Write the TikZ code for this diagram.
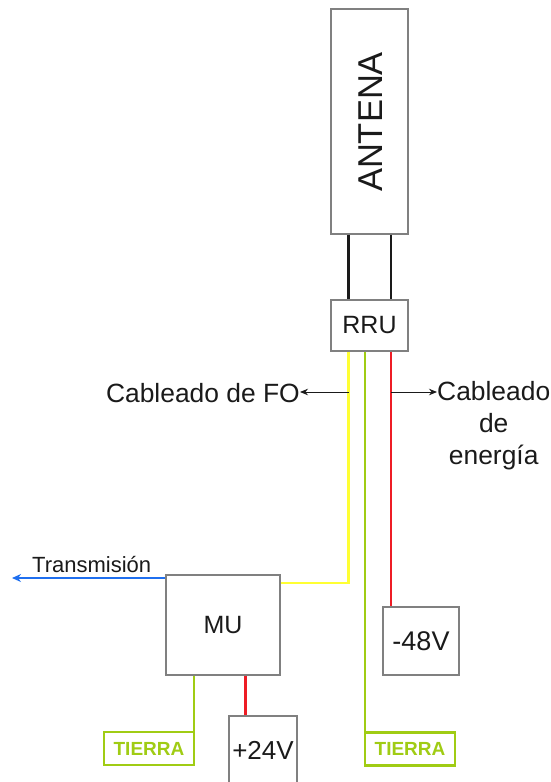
\documentclass[tikz,border=0pt]{standalone}
\usepackage{fontspec}
\setmainfont{Liberation Sans}
\usetikzlibrary{arrows.meta}
\definecolor{boxgray}{HTML}{808080}
\definecolor{txt}{HTML}{1A1A1A}
\definecolor{wyellow}{HTML}{FFFF33}
\definecolor{wgreen}{HTML}{A0CC14}
\definecolor{wred}{HTML}{EE1C25}
\definecolor{wblue}{HTML}{1F6FEF}
\tikzset{
  x=1pt,y=-1pt,
  unitbox/.style={draw=boxgray,line width=1.2pt,fill=white,inner sep=0pt,text=txt,font=\fontsize{25}{25}\selectfont},
  groundbox/.style={draw=wgreen,line width=2.4pt,fill=white,inner sep=0pt,text=wgreen,font=\fontsize{19}{19}\selectfont\bfseries,minimum width=90pt,minimum height=33pt},
  lbl/.style={inner sep=0pt,text=txt,font=\fontsize{26.4}{32}\selectfont},
  wire/.style={line width=2.9pt},
  pointer/.style={line width=1pt,draw=txt,-{Stealth[length=8pt,width=6.5pt]}},
}
\begin{document}
\begin{tikzpicture}
\useasboundingbox (0,0) rectangle (550,782);
\node[unitbox,minimum width=77pt,minimum height=225pt] (ant) at (369.5,121.5) {};
\node[inner sep=0pt,text=txt,font=\fontsize{34.5}{34.5}\selectfont,rotate=90] (anttxt) at (371,122) {ANTENA};
\node[unitbox,minimum width=77pt,minimum height=51pt] (rru) at (369.5,325.5) {RRU};
\node[unitbox,minimum width=114pt,minimum height=100pt] (mu) at (223,625) {MU};
\node[unitbox,minimum width=68pt,minimum height=69pt,font=\fontsize{26}{26}\selectfont] (p24) at (263,750.5) {+24V};
\node[unitbox,minimum width=76pt,minimum height=68pt,font=\fontsize{27}{27}\selectfont] (m48) at (421,641) {-48V};
\node[groundbox] (t1) at (149,748.5) {TIERRA};
\node[groundbox] (t2) at (410,749) {TIERRA};
\node[lbl,anchor=east] (fo) at (300,393) {Cableado de FO};
\node[lbl,anchor=west,align=center] (en) at (437,425.5) {Cableado\\de\\energía};
\node[inner sep=0pt,text=txt,font=\fontsize{22}{22}\selectfont,anchor=west] (tx) at (32,564) {Transmisión};
\coordinate (txend) at (12,578);
\coordinate (cy) at (348.5,583);
\coordinate (py) at (348.5,392);
\coordinate (pr) at (391,392);

\draw[wire,txt] ([xshift=-21pt]ant.south) -- ([xshift=-21pt]rru.north);
\draw[wire,txt] ([xshift=21.5pt]ant.south) -- ([xshift=21.5pt]rru.north);
\draw[wire,wyellow] ([xshift=-21pt]rru.south) -- (cy) -- (mu.east |- cy);
\draw[wire,wgreen] ([xshift=-4.5pt]rru.south) -- ([xshift=-4.5pt]rru.south |- t2.north);
\draw[wire,wred] ([xshift=21.5pt]rru.south) -- ([xshift=21.5pt]rru.south |- m48.north);
\draw[wire,wred] ([xshift=22.5pt]mu.south) -- ([xshift=22.5pt]mu.south |- p24.north);
\draw[wire,wgreen] ([xshift=-29pt]mu.south) -- ([xshift=-29pt]mu.south |- t1.north);
\draw[wire,wblue,-{Stealth[length=9pt,width=8pt]}] (mu.west |- txend) -- (txend);
\draw[pointer] (py) -- (fo.east |- py);
\draw[pointer] (pr) -- (en.west |- pr);
\end{tikzpicture}
\end{document}
